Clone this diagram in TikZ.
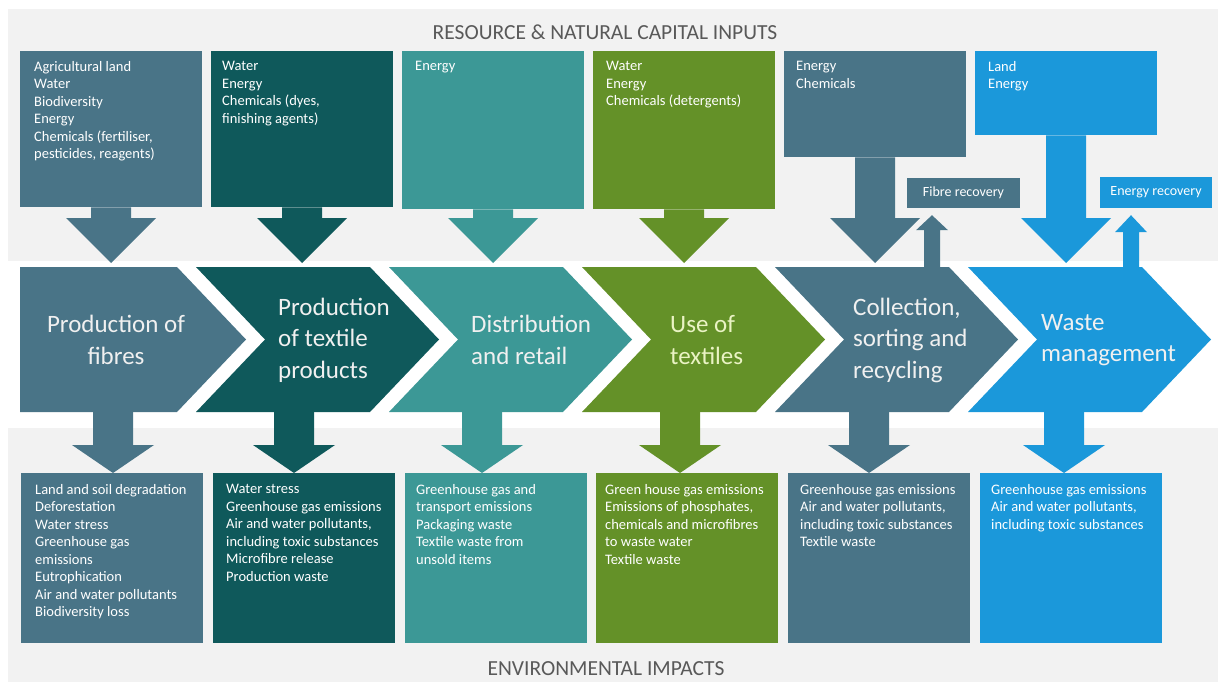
\documentclass[tikz,border=0pt]{standalone}
\usepackage{fontspec}
\setmainfont{Carlito}
\usetikzlibrary{calc,positioning}

\definecolor{slate}{HTML}{497487}
\definecolor{deepteal}{HTML}{0F595B}
\definecolor{midteal}{HTML}{3C9896}
\definecolor{leaf}{HTML}{649128}
\definecolor{sky}{HTML}{1B98DA}
\definecolor{panel}{HTML}{F2F2F2}
\definecolor{headgrey}{HTML}{595959}
\definecolor{paleleaf}{HTML}{EAF3C4}

% block arrow: colour, from, tip, half stem, half head, head offset from tip
\newcommand{\blockarrow}[6]{%
  \fill[#1] ($(#2)+(-#4,0)$) -- ($(#3)+(-#4,#6)$) -- ($(#3)+(-#5,#6)$) -- (#3)
    -- ($(#3)+(#5,#6)$) -- ($(#3)+(#4,#6)$) -- ($(#2)+(#4,0)$) -- cycle;}

\begin{document}
\begin{tikzpicture}[x=1pt,y=-1pt,
  listbox/.style={anchor=north west,minimum width=182pt,inner sep=0pt},
  listtext/.style={anchor=north west,align=left,inner sep=0pt,text=white,
    font=\fontsize{14.5}{17.5}\selectfont},
  stagelabel/.style={anchor=west,align=left,inner sep=0pt,text=white!94!black,
    font=\fontsize{25}{31.5}\selectfont},
  recovery/.style={inner sep=0pt,text=white,font=\fontsize{14}{17}\selectfont},
  heading/.style={text=headgrey,font=\fontsize{21.5}{26}\selectfont}]
  \useasboundingbox (0,0) rectangle (1218,682);
  % background panels:
  \fill[white] (0,0) rectangle (1218,682);
  \fill[panel] (8,9) rectangle (1218,682);
  \fill[white] (8,261) rectangle (1218,428);
  % headings:
  \node[heading] (inputs) at (605,32) {RESOURCE \& NATURAL CAPITAL INPUTS};
  \node[heading] (impacts) at (606,669) {ENVIRONMENTAL IMPACTS};

  % input boxes (top row):
  \node[listbox,fill=slate,minimum height=156pt] (in1) at (20,51) {};
  \node[listbox,fill=deepteal,minimum height=156pt] (in2) at (211,51) {};
  \node[listbox,fill=midteal,minimum height=158pt] (in3) at (402,51) {};
  \node[listbox,fill=leaf,minimum height=158pt] (in4) at (593,51) {};
  \node[listbox,fill=slate,minimum height=106pt] (in5) at (784,51) {};
  \node[listbox,fill=sky,minimum height=84pt] (in6) at (975,51) {};
  \node[listtext] (in1t) at ([shift={(14,10)}]in1.north west)
    {Agricultural land\\Water\\Biodiversity\\Energy\\Chemicals (fertiliser,\\pesticides, reagents)};
  \node[listtext] (in2t) at ([shift={(11,10)}]in2.north west)
    {Water\\Energy\\Chemicals (dyes,\\finishing agents)};
  \node[listtext] (in3t) at ([shift={(13,10)}]in3.north west) {Energy};
  \node[listtext] (in4t) at ([shift={(13,10)}]in4.north west)
    {Water\\Energy\\Chemicals (detergents)};
  \node[listtext] (in5t) at ([shift={(12,10)}]in5.north west) {Energy\\Chemicals};
  \node[listtext] (in6t) at ([shift={(13,10)}]in6.north west) {Land\\Energy};

  % impact boxes (bottom row):
  \node[listbox,fill=slate,minimum height=170pt] (out1) at (21,473) {};
  \node[listbox,fill=deepteal,minimum height=170pt] (out2) at (213,473) {};
  \node[listbox,fill=midteal,minimum height=170pt] (out3) at (405,473) {};
  \node[listbox,fill=leaf,minimum height=170pt] (out4) at (596,473) {};
  \node[listbox,fill=slate,minimum height=170pt] (out5) at (788,473) {};
  \node[listbox,fill=sky,minimum height=170pt] (out6) at (980,473) {};
  \node[listtext] (out1t) at ([shift={(14,11)}]out1.north west)
    {Land and soil degradation\\Deforestation\\Water stress\\Greenhouse gas\\emissions\\Eutrophication\\Air and water pollutants\\Biodiversity loss};
  \node[listtext] (out2t) at ([shift={(13,11)}]out2.north west)
    {Water stress\\Greenhouse gas emissions\\Air and water pollutants,\\including toxic substances\\Microfibre release\\Production waste};
  \node[listtext] (out3t) at ([shift={(11,11)}]out3.north west)
    {Greenhouse gas and\\transport emissions\\Packaging waste\\Textile waste from\\unsold items};
  \node[listtext] (out4t) at ([shift={(9,11)}]out4.north west)
    {Green house gas emissions\\Emissions of phosphates,\\chemicals and microfibres\\to waste water\\Textile waste};
  \node[listtext] (out5t) at ([shift={(12,11)}]out5.north west)
    {Greenhouse gas emissions\\Air and water pollutants,\\including toxic substances\\Textile waste};
  \node[listtext] (out6t) at ([shift={(11,11)}]out6.north west)
    {Greenhouse gas emissions\\Air and water pollutants,\\including toxic substances};

  % stage chevrons (first one has a flat back):
  \fill[slate] (20,267) -- (177,267) -- (246,339.5) -- (177,412) -- (20,412) -- cycle;
  \foreach \k/\col in {1/deepteal,2/midteal,3/leaf,4/slate,5/sky}
    \fill[\col] (3+193*\k,267) -- ++(174,0) -- ++(69,72.5) -- ++(-69,72.5)
      -- ++(-174,0) -- ++(69,-72.5) -- cycle;
  % stage labels:
  \node[stagelabel,anchor=center,align=center] (ch1) at (116,340) {Production of\\fibres};
  \node[stagelabel] (ch2) at (278,340) {Production\\of textile\\products};
  \node[stagelabel] (ch3) at (471,340) {Distribution\\and retail};
  \node[stagelabel,text=paleleaf] (ch4) at (670,340) {Use of\\textiles};
  \node[stagelabel] (ch5) at (853,340) {Collection,\\sorting and\\recycling};
  \node[stagelabel] (ch6) at (1041,340) {Waste\\management};

  % inputs going down into the stages:
  \foreach \i/\col in {1/slate,2/deepteal,3/midteal,4/leaf,5/slate,6/sky}{
    \coordinate (into\i) at (in\i.south |- 0,263);
    \blockarrow{\col}{in\i.south}{into\i}{20}{45}{-45}
  }
  % impacts coming out of the stages:
  \foreach \i/\x/\col in {1/113/slate,2/294/deepteal,3/482/midteal,4/680/leaf,5/869/slate,6/1064/sky}{
    \coordinate (from\i) at (\x,412);
    \coordinate (onto\i) at (from\i |- out\i.north);
    \blockarrow{\col}{from\i}{onto\i}{20}{41}{-28}
  }

  % recovery loops:
  \node[recovery,fill=slate,minimum width=113pt,minimum height=30pt] (fibre) at (963.5,193) {Fibre recovery};
  \node[recovery,fill=sky,minimum width=112pt,minimum height=31pt] (energy) at (1156,192.5) {Energy recovery};
  \coordinate (fibrefrom) at (932,267);
  \path (fibrefrom |- fibre.south) ++(0,7) coordinate (fibreto);
  \blockarrow{slate}{fibrefrom}{fibreto}{8}{16}{15}
  \coordinate (energyfrom) at (1131,267);
  \path (energyfrom |- energy.south) ++(0,7) coordinate (energyto);
  \blockarrow{sky}{energyfrom}{energyto}{8}{16}{17}
\end{tikzpicture}
\end{document}
